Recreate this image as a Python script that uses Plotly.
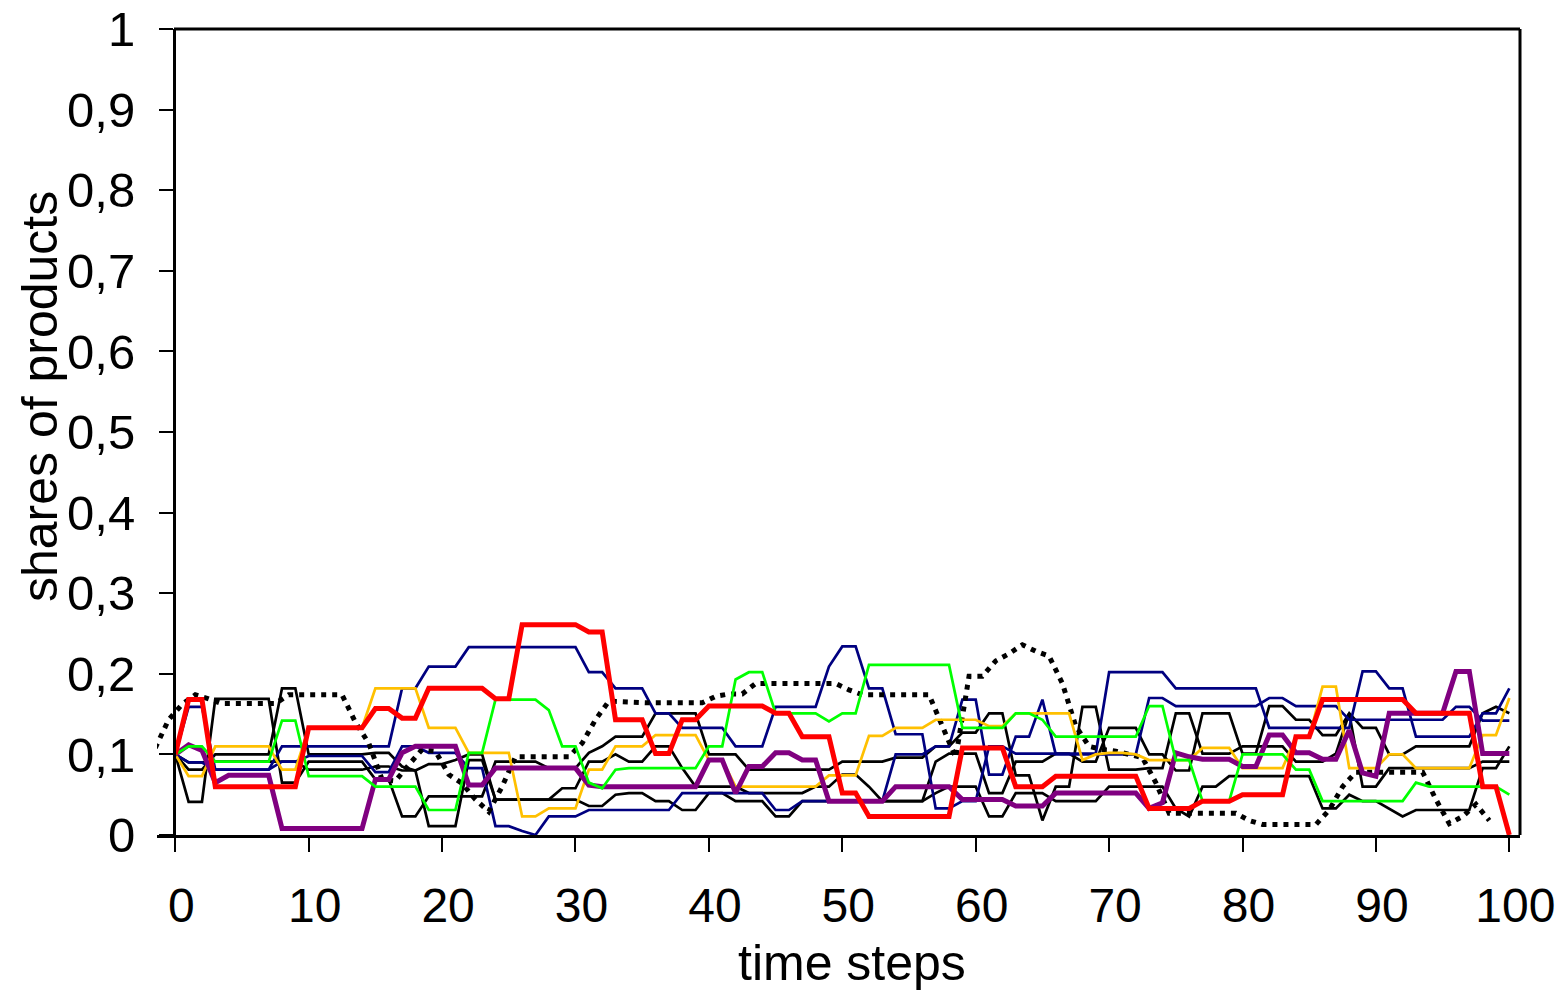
import plotly.graph_objects as go

steps = list(range(101))
dotted_shift = -1.5

red = [
.100,.168,.168,.060,.060,.060,.060,.060,.060,.060,
.133,.133,.133,.133,.133,.157,.157,.145,.145,.182,
.182,.182,.182,.182,.169,.169,.261,.261,.261,.261,
.261,.252,.252,.143,.143,.143,.101,.101,.143,.143,
.160,.160,.160,.160,.160,.151,.151,.122,.122,.122,
.052,.052,.023,.023,.023,.023,.023,.023,.023,.108,
.108,.108,.108,.060,.060,.060,.073,.073,.073,.073,
.073,.073,.073,.033,.033,.033,.033,.042,.042,.042,
.050,.050,.050,.050,.122,.122,.168,.168,.168,.168,
.168,.168,.168,.151,.151,.151,.151,.151,.060,.060,
.000]

purple = [
.100,.112,.105,.065,.074,.074,.074,.074,.008,.008,
.008,.008,.008,.008,.008,.069,.069,.102,.110,.110,
.110,.110,.062,.062,.083,.083,.083,.083,.083,.083,
.083,.062,.060,.060,.060,.060,.060,.060,.060,.060,
.093,.093,.052,.085,.085,.102,.102,.093,.093,.042,
.042,.042,.042,.042,.060,.060,.060,.060,.060,.044,
.044,.044,.044,.036,.036,.036,.052,.052,.052,.052,
.052,.052,.052,.033,.040,.102,.097,.094,.094,.094,
.085,.085,.124,.124,.102,.102,.094,.094,.130,.077,
.073,.151,.151,.151,.151,.151,.203,.203,.101,.101,
.101]

green = [
.100,.110,.110,.091,.091,.091,.091,.091,.142,.142,
.073,.073,.073,.073,.073,.060,.060,.060,.060,.031,
.031,.031,.102,.102,.168,.168,.168,.168,.155,.110,
.110,.065,.058,.081,.083,.083,.083,.083,.083,.083,
.110,.110,.193,.202,.202,.151,.151,.151,.151,.141,
.151,.151,.211,.211,.211,.211,.211,.211,.211,.133,
.133,.133,.133,.151,.151,.143,.122,.122,.122,.122,
.122,.122,.122,.160,.160,.093,.093,.042,.042,.042,
.100,.100,.100,.100,.081,.081,.042,.042,.042,.042,
.042,.042,.042,.065,.060,.060,.060,.060,.060,.060,
.050]

orange = [
.100,.073,.073,.110,.110,.110,.110,.110,.081,.081,
.133,.133,.133,.133,.133,.182,.182,.182,.182,.133,
.133,.133,.102,.102,.102,.102,.023,.023,.033,.033,
.033,.081,.081,.110,.110,.110,.124,.124,.124,.124,
.093,.093,.060,.060,.060,.060,.060,.060,.060,.074,
.074,.074,.123,.123,.133,.133,.133,.143,.143,.143,
.143,.135,.135,.151,.151,.151,.151,.151,.093,.100,
.102,.102,.100,.093,.093,.093,.093,.108,.108,.108,
.083,.083,.083,.083,.122,.122,.184,.184,.083,.083,
.083,.100,.100,.083,.083,.083,.083,.083,.124,.124,
.170]

navy_a = [
.100,.159,.159,.081,.081,.081,.081,.081,.110,.110,
.110,.110,.110,.110,.110,.110,.110,.182,.182,.209,
.209,.209,.233,.233,.233,.233,.233,.233,.233,.233,
.233,.202,.202,.182,.182,.182,.151,.151,.133,.133,
.133,.133,.110,.110,.110,.159,.159,.159,.159,.209,
.234,.234,.182,.182,.125,.125,.125,.033,.033,.042,
.042,.110,.110,.101,.101,.101,.101,.101,.101,.101,
.202,.202,.202,.202,.202,.182,.182,.182,.182,.182,
.182,.182,.133,.133,.133,.133,.133,.133,.133,.203,
.203,.182,.182,.122,.122,.122,.122,.122,.151,.151,
.182]

navy_b = [
.100,.090,.090,.081,.081,.081,.081,.081,.091,.091,
.098,.098,.098,.098,.098,.078,.078,.110,.110,.102,
.102,.102,.083,.083,.011,.011,.005,.000,.023,.023,
.023,.031,.031,.031,.031,.031,.031,.031,.052,.052,
.052,.052,.052,.052,.052,.031,.031,.042,.042,.042,
.042,.042,.042,.042,.100,.100,.100,.110,.110,.168,
.168,.075,.075,.122,.122,.168,.100,.100,.100,.100,
.100,.100,.100,.170,.170,.160,.160,.160,.160,.160,
.160,.160,.170,.170,.160,.160,.160,.160,.143,.143,
.143,.143,.143,.143,.143,.143,.159,.159,.142,.142,
.142]

black1 = [
.100,.041,.041,.169,.169,.169,.169,.169,.065,.065,
.091,.091,.091,.091,.091,.069,.069,.023,.023,.048,
.048,.048,.048,.048,.091,.091,.091,.091,.083,.083,
.083,.102,.110,.122,.122,.122,.151,.151,.151,.151,
.100,.100,.100,.081,.081,.081,.081,.081,.081,.081,
.091,.091,.091,.091,.096,.096,.096,.110,.110,.127,
.127,.151,.151,.074,.074,.018,.060,.060,.159,.159,
.081,.081,.081,.083,.083,.151,.151,.101,.101,.101,
.110,.110,.110,.110,.091,.091,.091,.101,.151,.060,
.060,.083,.083,.083,.083,.083,.083,.083,.091,.091,
.091]

black2 = [
.100,.081,.081,.100,.100,.100,.100,.100,.182,.182,
.100,.100,.100,.100,.100,.102,.102,.085,.080,.088,
.088,.093,.100,.100,.044,.044,.044,.044,.044,.058,
.058,.091,.091,.100,.091,.091,.110,.110,.083,.060,
.060,.060,.060,.052,.052,.052,.052,.052,.060,.060,
.075,.075,.060,.042,.042,.042,.042,.091,.101,.101,
.101,.052,.052,.091,.091,.091,.101,.101,.091,.091,
.133,.133,.133,.100,.100,.080,.080,.151,.151,.151,
.101,.101,.160,.160,.143,.143,.124,.124,.151,.133,
.133,.100,.100,.110,.110,.110,.110,.110,.151,.159,
.151]

black3 = [
.100,.090,.090,.091,.091,.091,.091,.091,.091,.091,
.081,.081,.081,.081,.081,.085,.085,.080,.080,.011,
.011,.011,.093,.093,.044,.044,.044,.044,.044,.044,
.044,.036,.036,.050,.052,.052,.042,.042,.031,.031,
.052,.052,.042,.042,.042,.023,.023,.042,.042,.042,
.042,.042,.042,.042,.042,.042,.042,.052,.060,.060,
.060,.023,.023,.052,.052,.052,.042,.042,.042,.042,
.060,.060,.060,.060,.060,.033,.023,.060,.060,.073,
.073,.073,.073,.073,.073,.073,.033,.033,.050,.042,
.042,.033,.023,.031,.031,.031,.031,.031,.083,.083,
.110]

dotted = [
.108,.143,.162,.174,.169,.163,.163,.163,.163,.163,
.174,.174,.174,.174,.174,.140,.114,.069,.067,.087,
.106,.104,.075,.064,.044,.029,.060,.097,.097,.097,
.097,.097,.114,.143,.166,.165,.164,.164,.164,.164,
.164,.164,.172,.175,.175,.188,.188,.188,.188,.188,
.188,.188,.180,.174,.174,.174,.174,.174,.174,.135,
.096,.197,.197,.216,.225,.236,.228,.222,.188,.135,
.110,.106,.104,.100,.096,.065,.027,.027,.027,.027,
.027,.027,.018,.013,.013,.013,.013,.013,.031,.060,
.078,.078,.078,.078,.078,.078,.044,.014,.023,.038,
.018]

y_tickvals = [0, 0.1, 0.2, 0.3, 0.4, 0.5, 0.6, 0.7, 0.8, 0.9, 1]
y_ticktext = ["0", "0,1", "0,2", "0,3", "0,4", "0,5", "0,6", "0,7", "0,8", "0,9", "1"]
x_tickvals = [0, 10, 20, 30, 40, 50, 60, 70, 80, 90, 100]

FONT = "Liberation Sans, Arial, sans-serif"
THIN = 2.7
THICK = 5

fig = go.Figure()

def add(y, color, width, x=None, dash=None):
    fig.add_trace(go.Scatter(
        x=x if x is not None else steps, y=y, mode="lines",
        line=dict(color=color, width=width, dash=dash),
        showlegend=False, hoverinfo="skip"))

add(black1, "#000000", THIN)
add(black2, "#000000", THIN)
add(black3, "#000000", THIN)
add(navy_b, "#000080", THIN)
add(navy_a, "#000080", THIN)
add(dotted, "#000000", 5, x=[s + dotted_shift for s in steps], dash="5px,6px")
add(orange, "#FFC000", THIN)
add(purple, "#800080", THICK)
add(green, "#00FF00", THIN)
add(red, "#FF0000", THICK)

fig.update_layout(
    width=1558, height=983,
    margin=dict(l=149, r=46, t=21, b=156, pad=0, autoexpand=False),
    paper_bgcolor="white", plot_bgcolor="white",
    font=dict(family=FONT, size=48, color="black"),
    xaxis=dict(
        range=[-1.37, 100.8], tickvals=x_tickvals, automargin=False,
        ticks="outside", ticklen=14, tickwidth=1.5, tickcolor="black",
        showline=True, linewidth=3, linecolor="black",
        showgrid=False, zeroline=False, ticklabelstandoff=12, ticklabelshift=6,
        ticklabeloverflow="allow",
        tickfont=dict(family=FONT, size=48),
    ),
    yaxis=dict(
        range=[0, 1], tickvals=y_tickvals, ticktext=y_ticktext, automargin=False,
        anchor="free", position=0.01247,
        ticks="outside", ticklen=14, tickwidth=1.5, tickcolor="black",
        showline=True, linewidth=3, linecolor="black",
        showgrid=False, zeroline=False, ticklabelstandoff=14,
        ticklabeloverflow="allow",
        tickfont=dict(family=FONT, size=49),
    ),
    annotations=[
        dict(text="time steps", xref="paper", yref="paper", x=0.5099, y=-0.1588,
             xanchor="center", yanchor="middle", showarrow=False,
             font=dict(family=FONT, size=50, color="black")),
        dict(text="shares of products", xref="paper", yref="paper", x=-0.0858, y=0.5434,
             xanchor="center", yanchor="middle", textangle=-90, showarrow=False,
             font=dict(family=FONT, size=50, color="black")),
    ],
    shapes=[
        dict(type="line", xref="paper", yref="paper", x0=0.01247, x1=1.0, y0=1, y1=1,
             line=dict(color="black", width=3)),
        dict(type="line", xref="paper", yref="paper", x0=1.0, x1=1.0, y0=0, y1=1,
             line=dict(color="black", width=3)),
        dict(type="line", xref="paper", yref="paper", x0=1.033, x1=1.033, y0=-0.2, y1=1.03,
             line=dict(color="#1a1a5a", width=2)),
    ],
)

fig.write_html("out.html")
